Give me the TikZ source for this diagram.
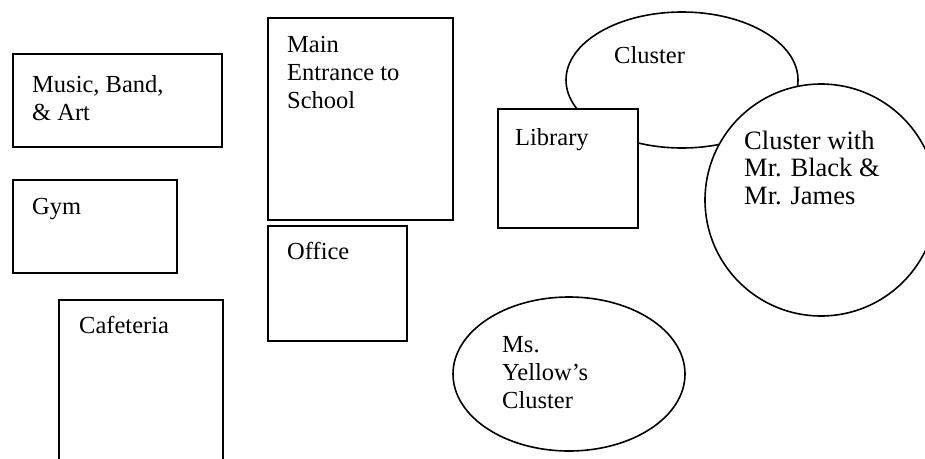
\documentclass[tikz,border=0pt]{standalone}
\usepackage{fontspec}
\setmainfont{Liberation Serif}
\usetikzlibrary{shapes.geometric}
% left-aligned multi-line label whose baseline is that of its first line
\newcommand\linesof[1]{\begin{tabular}[t]{@{}l@{}}#1\end{tabular}}

\begin{document}
\begin{tikzpicture}[x=1pt,y=1pt,
  room/.style={draw, line width=1.6pt, fill=white, rectangle, inner sep=0pt, anchor=north west},
  ovalroom/.style={draw, line width=1.6pt, fill=white, ellipse, inner sep=0pt},
  roundroom/.style={draw, line width=1.6pt, fill=white, circle, inner sep=0pt},
  lbl/.style={anchor=base west, inner sep=0pt, font=\fontsize{24.5}{28}\selectfont}]
\useasboundingbox (0,0) rectangle (925,-458);
\fill[white] (0,0) rectangle (925,-458);
\clip (0,0) rectangle (925,-458);

% rooms on the left
\node[room, minimum width=209pt, minimum height=93pt] (music) at (12,-53) {};
\node[room, minimum width=164pt, minimum height=93pt] (gym) at (12,-179) {};
\node[room, minimum width=164pt, minimum height=200pt] (cafe) at (58,-299) {};

% entrance and office
\node[room, minimum width=185pt, minimum height=202pt] (entrance) at (267,-17) {};
\node[room, minimum width=139pt, minimum height=115pt] (office) at (267,-225) {};

% clusters and library (library and round cluster sit on top of the oval)
\node[ovalroom, minimum width=232pt, minimum height=136pt] (cluster) at (682,-80) {};
\node[room, minimum width=140pt, minimum height=119pt] (library) at (497,-108) {};
\node[roundroom, minimum size=232pt] (blackjames) at (821,-200) {};
\node[ovalroom, minimum width=232pt, minimum height=154pt] (yellow) at (569,-374) {};

% labels
\node[lbl] (tmusic) at (32,-92) {\linesof{Music, Band,\\ \& Art}};
\node[lbl] (tentrance) at (287,-52) {\linesof{Main\\ Entrance to\\ School}};
\node[lbl] (tgym) at (32,-214) {Gym};
\node[lbl] (tcafe) at (79,-333) {Cafeteria};
\node[lbl] (toffice) at (287,-259) {Office};
\node[lbl] (tlibrary) at (515,-145) {Library};
\node[lbl] (tcluster) at (614,-63) {Cluster};
\node[lbl, font=\fontsize{26.5}{27.5}\selectfont] (tblackjames) at (744,-149)
  {\linesof{Cluster with\\ Mr. Black \&\\ Mr. James}};
\node[lbl] (tyellow) at (502,-352) {\linesof{Ms.\\ Yellow’s\\ Cluster}};
\end{tikzpicture}
\end{document}
